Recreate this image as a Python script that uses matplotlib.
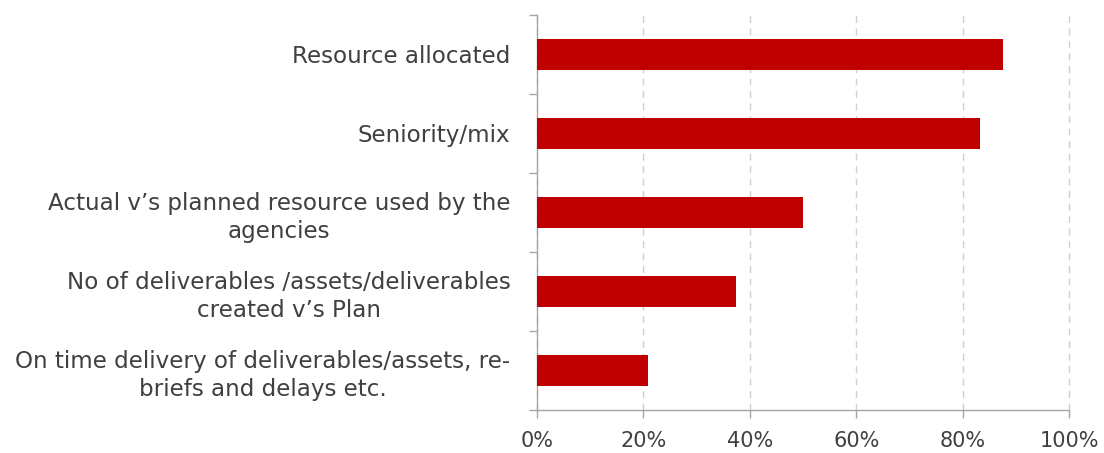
import matplotlib
matplotlib.use("Agg")
import matplotlib.pyplot as plt
from matplotlib.ticker import FixedLocator, PercentFormatter

categories = [
    "Resource allocated",
    "Seniority/mix",
    "Actual v\u2019s planned resource used by the\nagencies",
    "No of deliverables /assets/deliverables\ncreated v\u2019s Plan",
    "On time delivery of deliverables/assets, re-\nbriefs and delays etc.",
]
shares = [87.5, 83.3, 50.0, 37.5, 20.8]
x_ticks = [0, 20, 40, 60, 80, 100]

BAR = "#c00000"
TEXT = "#404040"
AXIS = "#a6a6a6"
GRID = "#d0d0d0"

plt.rcParams["font.family"] = ["DejaVu Sans"]

fig = plt.figure(figsize=(11.04, 4.53), dpi=100)
ax = fig.add_axes([0.4864, 0.0949, 0.4819, 0.872])

pos = list(range(len(categories)))
ax.barh(pos, shares, height=0.4, color=BAR, zorder=3)

ax.set_xlim(0, 100)
ax.set_ylim(len(categories) - 0.5, -0.5)

ax.xaxis.set_major_locator(FixedLocator(x_ticks))
ax.xaxis.set_major_formatter(PercentFormatter(decimals=0))
ax.grid(axis="x", color=GRID, linestyle=(0, (5, 4)), linewidth=1, zorder=0)
for gl in ax.get_xgridlines():
    gl.set_clip_on(False)

ax.set_yticks(pos)
ax.set_yticklabels(categories, ha="right", multialignment="center",
                   fontsize=16.6, color=TEXT, linespacing=1.3)
ax.yaxis.set_minor_locator(FixedLocator([p - 0.5 for p in pos] + [len(pos) - 0.5]))
ax.tick_params(axis="y", which="major", length=0, pad=19)
ax.tick_params(axis="y", which="minor", length=6, color=AXIS, width=1)
ax.tick_params(axis="x", which="major", length=6, color=AXIS, width=1,
               labelsize=15, labelcolor=TEXT, pad=9)

for side in ("top", "right"):
    ax.spines[side].set_visible(False)
for side in ("left", "bottom"):
    ax.spines[side].set_color(AXIS)
    ax.spines[side].set_linewidth(1)

fig.savefig("out.png", dpi=100)
